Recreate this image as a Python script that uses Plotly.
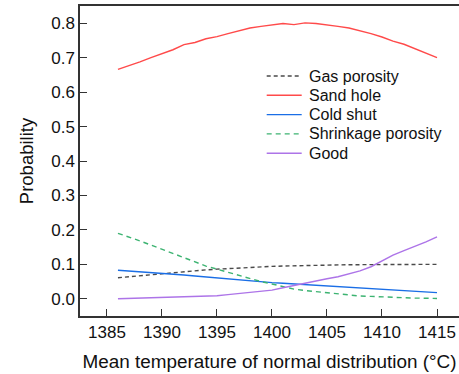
import plotly.graph_objects as go

temps = list(range(1386, 1416))

gas_porosity = [0.061, 0.064, 0.068, 0.071, 0.074, 0.077, 0.079, 0.081, 0.084, 0.086,
                0.088, 0.090, 0.092, 0.093, 0.094, 0.095, 0.096, 0.097, 0.098, 0.098,
                0.099, 0.099, 0.099, 0.099, 0.100, 0.100, 0.100, 0.100, 0.100, 0.100]
sand_hole = [0.666, 0.676, 0.688, 0.700, 0.711, 0.723, 0.738, 0.744, 0.755, 0.761,
             0.770, 0.779, 0.786, 0.791, 0.795, 0.799, 0.796, 0.801, 0.799, 0.796,
             0.791, 0.786, 0.779, 0.770, 0.760, 0.748, 0.739, 0.726, 0.714, 0.700]
cold_shut = [0.083, 0.081, 0.079, 0.077, 0.075, 0.073, 0.069, 0.066, 0.063, 0.060,
             0.057, 0.055, 0.052, 0.050, 0.047, 0.045, 0.043, 0.041, 0.038, 0.036,
             0.034, 0.032, 0.030, 0.028, 0.027, 0.025, 0.023, 0.021, 0.019, 0.018]
shrinkage_porosity = [0.190, 0.180, 0.168, 0.156, 0.144, 0.130, 0.118, 0.106, 0.095, 0.086,
                      0.077, 0.066, 0.057, 0.050, 0.043, 0.035, 0.028, 0.024, 0.021, 0.017,
                      0.013, 0.011, 0.008, 0.007, 0.005, 0.004, 0.003, 0.002, 0.002, 0.001]
good = [0.000, 0.001, 0.001, 0.002, 0.003, 0.003, 0.004, 0.005, 0.007, 0.009,
        0.012, 0.015, 0.018, 0.021, 0.025, 0.032, 0.039, 0.046, 0.051, 0.058,
        0.064, 0.072, 0.081, 0.093, 0.110, 0.127, 0.140, 0.152, 0.165, 0.180]

x_ticks = [1385, 1390, 1395, 1400, 1405, 1410, 1415]
y_ticks = [0.0, 0.1, 0.2, 0.3, 0.4, 0.5, 0.6, 0.7, 0.8]

series = [
    ("Gas porosity", gas_porosity, "#4a4a4a", "4px,3px"),
    ("Sand hole", sand_hole, "#ff4a4a", "solid"),
    ("Cold shut", cold_shut, "#1a6ee6", "solid"),
    ("Shrinkage porosity", shrinkage_porosity, "#3cb371", "5px,4px"),
    ("Good", good, "#ad74e8", "solid"),
]

W, H = 459, 374
ML, MR, MT, MB = 80, 0, 6, 58
PW, PH = W - ML - MR, H - MT - MB

def px_x(px):
    return (px - ML) / PW

def px_y(py):
    return 1 - (py - MT) / PH

fig = go.Figure()
for name, vals, color, dash in series:
    fig.add_trace(go.Scatter(x=temps, y=vals, name=name, mode="lines",
                             line=dict(color=color, width=1.4, dash=dash),
                             showlegend=False))

# manual legend (layout decoration)
leg_x0, leg_x1, leg_tx, leg_y0, leg_dy = 266.7, 301.7, 306.5, 76.0, 19.3
shapes, annos = [], []
for i, (name, vals, color, dash) in enumerate(series):
    yy = px_y(leg_y0 + i * leg_dy)
    shapes.append(dict(type="line", xref="paper", yref="paper",
                       x0=px_x(leg_x0), x1=px_x(leg_x1), y0=yy, y1=yy,
                       line=dict(color=color, width=1.4, dash=dash)))
    annos.append(dict(text=name, xref="paper", yref="paper", x=px_x(leg_tx), y=yy,
                      xanchor="left", yanchor="middle", showarrow=False,
                      font=dict(size=16, color="#111")))

font_family = "Arial, 'Liberation Sans', sans-serif"
fig.update_layout(
    width=W, height=H,
    margin=dict(l=ML, r=MR, t=MT, b=MB),
    plot_bgcolor="white", paper_bgcolor="white",
    font=dict(family=font_family, size=17, color="#111"),
    showlegend=False,
    shapes=shapes, annotations=annos,
)
fig.update_xaxes(
    range=[1382.55, 1417.0], tickvals=x_ticks, ticktext=[str(t) for t in x_ticks],
    showgrid=False, zeroline=False, showline=True, linecolor="#333", linewidth=1.5,
    mirror=True, ticks="inside", ticklen=7, tickcolor="#333", tickwidth=1,
    title=dict(text="Mean temperature of normal distribution (°C)", font=dict(size=18.9), standoff=14),
)
fig.update_yaxes(
    range=[-0.05, 0.85], tickvals=y_ticks, ticktext=[f"{v:.1f}" for v in y_ticks],
    showgrid=False, zeroline=False, showline=True, linecolor="#333", linewidth=1.5,
    mirror=False, ticks="inside", ticklen=7, tickcolor="#333", tickwidth=1,
    title=dict(text="Probability", font=dict(size=18.5), standoff=13),
)

fig.write_html("out.html", config={"displayModeBar": False},
               post_script="document.body.style.margin='0';document.body.style.overflow='hidden';")
